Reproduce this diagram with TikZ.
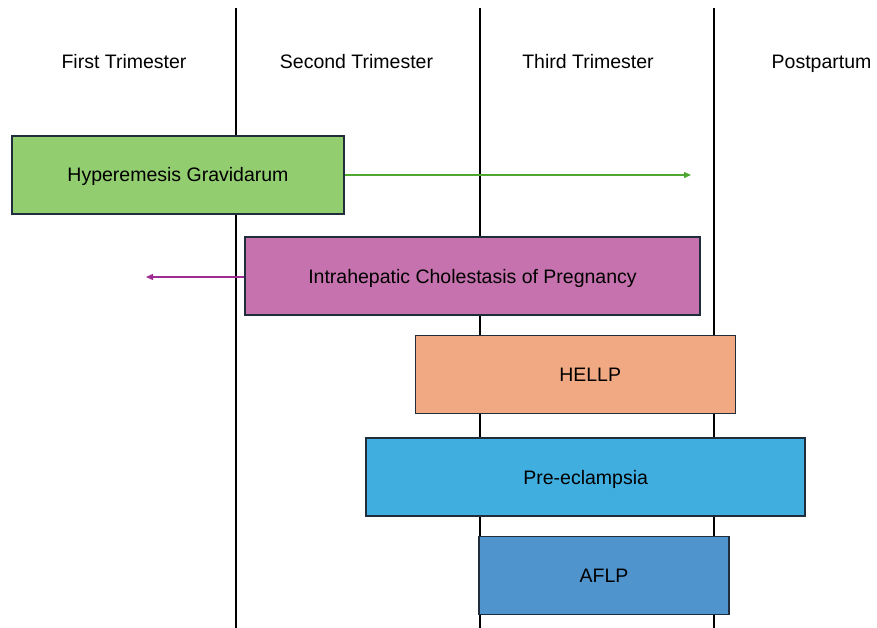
\documentclass[tikz,border=0pt]{standalone}
\usepackage{fontspec}
\setmainfont{Liberation Sans}
\usetikzlibrary{arrows.meta}

\definecolor{hgfill}{HTML}{92CD70}
\definecolor{icpfill}{HTML}{C672AE}
\definecolor{hellpfill}{HTML}{F1A983}
\definecolor{prefill}{HTML}{41AEE0}
\definecolor{aflpfill}{HTML}{5094CE}
\definecolor{boxline}{HTML}{1F2D3D}
\definecolor{hgarrow}{HTML}{4EA72E}
\definecolor{icparrow}{HTML}{A02B93}

\begin{document}
\begin{tikzpicture}[x=1pt,y=-1pt,
    every node/.style={font=\fontsize{19.5}{23}\selectfont,text height=18pt,text depth=4pt},
    period/.style={inner sep=0pt},
    disease/.style={draw=boxline,line width=1.5pt,minimum height=78pt,inner sep=0pt},
    spread/.style={line width=1.3pt,-{Triangle[length=7pt,width=6pt]}}]

    \useasboundingbox (0,0) rectangle (877,628);

    % Trimester dividers
    \foreach \x in {236,480,714} {
      \draw[line width=1.5pt] (\x,8) -- (\x,628);
    }

    % Period headers
    \node[period] (first)  at (124,62)   {First Trimester};
    \node[period] (second) at (356.5,62) {Second Trimester};
    \node[period] (third)  at (588,62)   {Third Trimester};
    \node[period] (post)   at (821.5,62) {Postpartum};

    % Disease bars
    \node[disease,fill=hgfill,minimum width=332pt] (hg) at (178,175) {Hyperemesis Gravidarum};
    \node[disease,fill=icpfill,minimum width=455pt] (icp) at (472.5,276) {Intrahepatic Cholestasis of Pregnancy};
    \node[disease,fill=hellpfill,minimum width=320pt] (hellp) at (575.7,374.5) {\hspace*{29pt}HELLP};
    \node[disease,fill=prefill,minimum width=439pt] (pre) at (585.7,477) {Pre-eclampsia};
    \node[disease,fill=aflpfill,minimum width=250pt] (aflp) at (604,575.7) {AFLP};

    % Spread beyond the bars
    \coordinate (hgend)  at (691,175);
    \coordinate (icpend) at (146,277);
    \draw[spread,hgarrow] (hg.east) -- (hgend);
    \draw[spread,icparrow] (icp.west |- icpend) -- (icpend);

  \end{tikzpicture}
\end{document}
